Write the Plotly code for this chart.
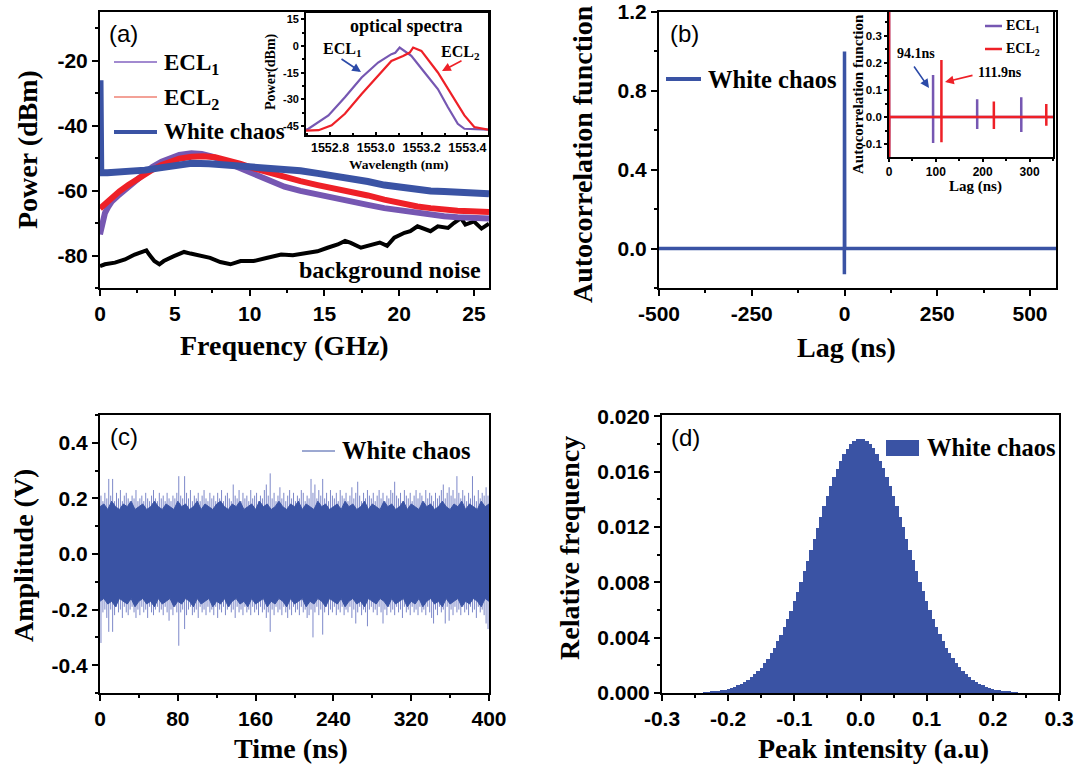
import plotly.graph_objects as go

# ---------------------------------------------------------------- data
# (a) RF spectra (GHz, dBm)
freq_ecl1 = [0, 0.11, 0.33, 0.55, 0.78, 1.2, 1.89, 2.5, 3.0, 3.5, 4.11, 4.7, 5.3, 6.11, 6.8,
             7.5, 8.56, 9.5, 10.33, 11.3, 12.33, 13.4, 14.55, 15.7, 16.78, 17.9, 19.0, 20.1,
             21.22, 22.1, 23.0, 23.9, 24.78, 25.4, 26]
pow_ecl1 = [-73.5, -71.0, -66.9, -65.0, -63.4, -61.6, -58.8, -56.3, -54.2, -52.7, -51.1, -49.9,
            -49.0, -48.5, -48.7, -49.5, -51.6, -53.4, -55.2, -57.0, -58.8, -60.1, -61.3, -62.4,
            -63.4, -64.4, -65.4, -66.2, -66.9, -67.4, -67.9, -68.2, -68.4, -68.5, -68.6]
freq_ecl2 = [0, 0.11, 0.33, 0.78, 1.3, 1.89, 2.4, 3.0, 3.5, 4.11, 4.7, 5.3, 6.11, 6.9, 7.7,
             8.56, 9.4, 10.33, 11.3, 12.33, 13.4, 14.55, 15.7, 16.78, 17.9, 19.0, 20.1, 21.22,
             22.1, 23.0, 23.9, 24.78, 26]
pow_ecl2 = [-65.5, -65.0, -64.4, -62.3, -60.2, -58.3, -56.7, -55.2, -53.6, -52.1, -51.0, -50.2,
            -49.6, -49.4, -49.7, -50.6, -51.8, -53.2, -54.5, -55.8, -57.1, -58.3, -59.3, -60.3,
            -61.5, -62.8, -63.9, -64.9, -65.4, -65.9, -66.2, -66.4, -66.6]
freq_wc = [0, 0.05, 0.5, 1.0, 1.89, 3.0, 4.0, 5.0, 6.11, 7.3, 8.56, 10.33, 12.33, 13.4, 14.55,
           15.7, 16.78, 17.9, 19.0, 20.1, 21.22, 22.1, 23.0, 23.9, 24.78, 26]
pow_wc = [-26.0, -54.5, -54.5, -54.4, -54.2, -53.7, -53.0, -52.3, -51.6, -51.7, -52.1, -52.6,
          -53.2, -53.9, -54.7, -55.5, -56.2, -57.2, -58.3, -59.1, -59.8, -60.1, -60.3, -60.5,
          -60.8, -61.0]
freq_bg = [0, 0.33, 1.0, 1.67, 2.32, 2.76, 3.1, 3.29, 3.63, 3.97, 4.26, 4.94, 5.62, 6.05,
           6.68, 7.36, 8.04, 8.72, 9.4, 10.27, 11.19, 12.11, 12.89, 13.66, 14.53, 15.21,
           15.89, 16.38, 16.76, 17.44, 18.31, 18.7, 19.19, 19.67, 20.35, 20.74, 21.22, 21.71,
           22.09, 22.58, 23.26, 23.65, 24.13, 24.42, 25.0, 25.5, 26]
pow_bg = [-83.3, -82.7, -82.2, -81.2, -79.7, -79.1, -78.4, -79.7, -81.7, -82.7, -81.7, -80.2,
          -78.9, -79.4, -80.0, -80.7, -82.0, -82.7, -81.7, -81.7, -80.7, -79.7, -79.9, -79.2,
          -78.7, -77.6, -76.6, -75.5, -76.1, -77.6, -76.6, -76.0, -77.0, -74.5, -73.0, -72.5,
          -71.0, -72.0, -72.5, -71.0, -71.5, -70.0, -68.5, -70.5, -69.5, -71.7, -70.2]

# (a) inset: optical spectra (nm, dBm)
wl_ecl1 = [1552.695, 1552.706, 1552.793, 1552.865, 1552.938, 1553.010, 1553.068, 1553.085,
           1553.104, 1553.155, 1553.213, 1553.271, 1553.315, 1553.358, 1553.387, 1553.49]
opt_ecl1 = [-47.0, -46.5, -39.0, -28.8, -17.7, -9.3, -4.6, -3.8, -0.9, -5.6, -14.9, -24.2,
            -34.4, -43.7, -46.5, -47.0]
wl_ecl2 = [1552.695, 1552.75, 1552.807, 1552.865, 1552.938, 1553.010, 1553.068, 1553.119,
           1553.148, 1553.163, 1553.199, 1553.271, 1553.329, 1553.387, 1553.43, 1553.49]
opt_ecl2 = [-47.5, -47.3, -44.6, -38.1, -27.0, -16.7, -8.4, -5.6, -3.7, -0.9, -2.8, -14.9,
            -27.0, -39.0, -45.5, -47.0]

# (b) autocorrelation of white chaos (ns, a.u.)
lag_wc = [-500, -0.6, -0.3, 0, 0.3, 0.6, 570]
acf_wc = [0.0, 0.0, -0.13, 1.0, -0.13, 0.0, 0.0]

# (b) inset: autocorrelation of the two lasers
lag_ecl1 = [0, 0.3, 0.6, 94.0, 94.05, 94.15, 94.2, 188.1, 188.15, 188.25, 188.3,
            282.2, 282.25, 282.35, 282.4, 350]
acf_ecl1 = [1.0, -0.2, 0.0, 0.0, 0.155, -0.095, 0.0, 0.0, 0.066, -0.044, 0.0,
            0.0, 0.073, -0.055, 0.0, 0.0]
lag_ecl2 = [0, 0.3, 0.6, 111.8, 111.85, 111.95, 112.0, 223.7, 223.75, 223.85, 223.9,
            335.6, 335.65, 335.75, 335.8, 350]
acf_ecl2 = [1.0, -0.2, 0.0, 0.0, 0.21, -0.093, 0.0, 0.0, 0.057, -0.044, 0.0,
            0.0, 0.048, -0.032, 0.0, 0.0]

# (c) time trace: dense core (edges every 4 ns) and excursions every 2 ns (V)
core_t = list(range(0, 401, 4))
core_hi = [
    0.17, 0.18, 0.16, 0.19, 0.17, 0.16, 0.18, 0.17, 0.19, 0.16, 0.17, 0.18, 0.16, 0.17, 0.19, 0.17, 0.16, 0.18, 0.17, 0.16,
    0.19, 0.17, 0.18, 0.16, 0.17, 0.19, 0.16, 0.18, 0.17, 0.16, 0.18, 0.19, 0.17, 0.16, 0.18, 0.17, 0.19, 0.16, 0.17, 0.18,
    0.16, 0.19, 0.17, 0.18, 0.16, 0.17, 0.19, 0.17, 0.16, 0.18, 0.17, 0.19, 0.16, 0.18, 0.17, 0.16, 0.19, 0.17, 0.18, 0.16,
    0.17, 0.18, 0.16, 0.19, 0.17, 0.18, 0.16, 0.17, 0.19, 0.16, 0.18, 0.17, 0.16, 0.19, 0.17, 0.18, 0.16, 0.17, 0.19, 0.16,
    0.18, 0.17, 0.16, 0.19, 0.17, 0.18, 0.16, 0.17, 0.19, 0.17, 0.16, 0.18, 0.17, 0.19, 0.16, 0.18, 0.17, 0.16, 0.19, 0.17,
    0.18,
]
core_lo = [
    -0.17, -0.16, -0.18, -0.17, -0.19, -0.16, -0.17, -0.18, -0.16, -0.19, -0.17, -0.16, -0.18, -0.17, -0.19, -0.16, -0.18, -0.17, -0.16, -0.19,
    -0.17, -0.18, -0.16, -0.17, -0.19, -0.16, -0.18, -0.17, -0.16, -0.19, -0.17, -0.18, -0.16, -0.19, -0.17, -0.16, -0.18, -0.17, -0.19, -0.16,
    -0.18, -0.17, -0.16, -0.19, -0.17, -0.18, -0.16, -0.17, -0.19, -0.16, -0.18, -0.17, -0.16, -0.19, -0.17, -0.18, -0.16, -0.17, -0.19, -0.16,
    -0.17, -0.18, -0.16, -0.19, -0.17, -0.16, -0.18, -0.17, -0.19, -0.16, -0.17, -0.18, -0.16, -0.17, -0.19, -0.16, -0.18, -0.17, -0.16, -0.19,
    -0.17, -0.18, -0.16, -0.19, -0.17, -0.16, -0.18, -0.17, -0.19, -0.16, -0.18, -0.17, -0.16, -0.19, -0.17, -0.18, -0.16, -0.17, -0.19, -0.16,
    -0.17,
]
spike_t = list(range(1, 400, 2))
spike_up = [
    0.21, 0.19, 0.22, 0.20, 0.27, 0.21, 0.27, 0.19, 0.22, 0.20, 0.23, 0.19, 0.21, 0.22, 0.20, 0.19, 0.21, 0.20, 0.23, 0.19,
    0.20, 0.21, 0.19, 0.22, 0.20, 0.19, 0.21, 0.23, 0.20, 0.19, 0.22, 0.20, 0.21, 0.19, 0.22, 0.20, 0.19, 0.21, 0.20, 0.22,
    0.28, 0.21, 0.20, 0.28, 0.22, 0.20, 0.23, 0.19, 0.21, 0.20, 0.22, 0.19, 0.21, 0.23, 0.20, 0.19, 0.22, 0.20, 0.21, 0.19,
    0.22, 0.20, 0.23, 0.19, 0.21, 0.22, 0.20, 0.19, 0.25, 0.21, 0.20, 0.23, 0.19, 0.22, 0.20, 0.21, 0.19, 0.23, 0.20, 0.21,
    0.22, 0.19, 0.21, 0.20, 0.23, 0.25, 0.21, 0.29, 0.20, 0.22, 0.19, 0.21, 0.24, 0.20, 0.22, 0.19, 0.21, 0.23, 0.20, 0.22,
    0.19, 0.21, 0.20, 0.23, 0.22, 0.19, 0.21, 0.20, 0.27, 0.22, 0.25, 0.20, 0.23, 0.21, 0.27, 0.20, 0.22, 0.19, 0.23, 0.21,
    0.20, 0.22, 0.19, 0.23, 0.21, 0.20, 0.22, 0.19, 0.21, 0.24, 0.20, 0.22, 0.26, 0.21, 0.19, 0.22, 0.20, 0.23, 0.21, 0.20,
    0.22, 0.19, 0.21, 0.23, 0.20, 0.22, 0.19, 0.21, 0.20, 0.23, 0.22, 0.26, 0.21, 0.20, 0.22, 0.19, 0.23, 0.21, 0.20, 0.22,
    0.19, 0.21, 0.23, 0.20, 0.22, 0.21, 0.19, 0.23, 0.20, 0.22, 0.21, 0.19, 0.22, 0.20, 0.21, 0.23, 0.25, 0.20, 0.22, 0.24,
    0.21, 0.23, 0.20, 0.28, 0.22, 0.20, 0.23, 0.21, 0.19, 0.22, 0.20, 0.28, 0.21, 0.19, 0.23, 0.20, 0.22, 0.21, 0.24, 0.21,
]
spike_down = [
    -0.32, -0.21, -0.20, -0.23, -0.28, -0.20, -0.28, -0.22, -0.19, -0.21, -0.20, -0.23, -0.19, -0.21, -0.22, -0.20, -0.19, -0.21, -0.23, -0.20,
    -0.22, -0.19, -0.21, -0.20, -0.23, -0.19, -0.21, -0.22, -0.20, -0.19, -0.21, -0.20, -0.22, -0.19, -0.21, -0.24, -0.20, -0.22, -0.19, -0.21,
    -0.33, -0.21, -0.20, -0.27, -0.22, -0.20, -0.19, -0.22, -0.21, -0.20, -0.23, -0.19, -0.21, -0.20, -0.22, -0.19, -0.21, -0.20, -0.22, -0.19,
    -0.23, -0.20, -0.21, -0.19, -0.22, -0.20, -0.19, -0.21, -0.20, -0.23, -0.19, -0.21, -0.20, -0.22, -0.19, -0.21, -0.20, -0.22, -0.19, -0.21,
    -0.20, -0.22, -0.19, -0.21, -0.20, -0.23, -0.21, -0.28, -0.20, -0.22, -0.19, -0.21, -0.20, -0.22, -0.19, -0.21, -0.23, -0.20, -0.22, -0.19,
    -0.21, -0.20, -0.22, -0.19, -0.21, -0.20, -0.23, -0.22, -0.20, -0.30, -0.21, -0.19, -0.22, -0.20, -0.29, -0.21, -0.19, -0.22, -0.20, -0.21,
    -0.19, -0.22, -0.20, -0.21, -0.19, -0.22, -0.20, -0.21, -0.19, -0.23, -0.20, -0.25, -0.21, -0.19, -0.22, -0.20, -0.21, -0.26, -0.20, -0.19,
    -0.21, -0.20, -0.22, -0.19, -0.21, -0.25, -0.20, -0.22, -0.19, -0.21, -0.20, -0.22, -0.19, -0.21, -0.20, -0.23, -0.19, -0.21, -0.20, -0.22,
    -0.19, -0.21, -0.20, -0.22, -0.19, -0.21, -0.20, -0.22, -0.19, -0.21, -0.23, -0.25, -0.20, -0.22, -0.19, -0.21, -0.20, -0.25, -0.19, -0.24,
    -0.20, -0.22, -0.19, -0.21, -0.20, -0.22, -0.19, -0.21, -0.20, -0.22, -0.19, -0.21, -0.20, -0.23, -0.19, -0.21, -0.20, -0.22, -0.25, -0.27,
]

# (d) histogram of peak intensity: bin centres (a.u.) and relative frequency
bin_width = 0.005
bin_centres = [round(-0.235 + i * bin_width, 3) for i in range(95)]
rel_freq = [
    0.00004, 0.00006, 0.00009, 0.00012, 0.00015, 0.00019, 0.00024, 0.00030, 0.00037, 0.00045,
    0.00055, 0.00066, 0.00080, 0.00095, 0.00113, 0.00134, 0.00158, 0.00184, 0.00214, 0.00248,
    0.00286, 0.00327, 0.00373, 0.00422, 0.00476, 0.00534, 0.00596, 0.00662, 0.00732, 0.00804,
    0.00879, 0.00957, 0.01035, 0.01115, 0.01195, 0.01273, 0.01350, 0.01425, 0.01496, 0.01562,
    0.01623, 0.01678, 0.01725, 0.01765, 0.01797, 0.01820, 0.01834, 0.01840,
    0.01836, 0.01824, 0.01801, 0.01768, 0.01728, 0.01680, 0.01625, 0.01564, 0.01498, 0.01427,
    0.01352, 0.01275, 0.01197, 0.01117, 0.01037, 0.00959, 0.00881, 0.00806, 0.00734, 0.00664,
    0.00598, 0.00536, 0.00478, 0.00424, 0.00375, 0.00329, 0.00288, 0.00250, 0.00216, 0.00186,
    0.00159, 0.00135, 0.00114, 0.00096, 0.00081, 0.00067, 0.00056, 0.00046, 0.00038, 0.00031,
    0.00025, 0.00020, 0.00016, 0.00012, 0.00009, 0.00006, 0.00004,
]

# tick labels (plain hyphen minus signs)
a_xticks = [0, 5, 10, 15, 20, 25]
a_yticks = [-80, -60, -40, -20]
ai_xticks = [1552.8, 1553.0, 1553.2, 1553.4]
ai_yticks = [-45, -30, -15, 0, 15]
b_xticks = [-500, -250, 0, 250, 500]
b_yticks = [0.0, 0.4, 0.8, 1.2]
bi_xticks = [0, 100, 200, 300]
bi_yticks = [-0.1, 0.0, 0.1, 0.2, 0.3]
c_xticks = [0, 80, 160, 240, 320, 400]
c_yticks = [-0.4, -0.2, 0.0, 0.2, 0.4]
d_xticks = [-0.3, -0.2, -0.1, 0.0, 0.1, 0.2, 0.3]
d_yticks = [0.000, 0.004, 0.008, 0.012, 0.016, 0.020]

# ---------------------------------------------------------------- style
W, H = 1077, 767
SERIF = "Liberation Serif"
SANS = "Liberation Sans"
BLUE = "#3a53a4"
PURPLE = "#7657b2"
RED = "#ee2027"
SPIKE = "#7d88c9"


def px(x):
    return x / W


def py(y):
    return 1 - y / H


def fmt(v, nd):
    return f"{v:.{nd}f}"


def axis(domain, rng, ticks, nd, minor_tick0, minor_dtick, anchor, fs=21, tl=6, lw=2,
         tickdir="outside"):
    return dict(
        domain=domain, range=rng, anchor=anchor, automargin=False,
        tickmode="array", tickvals=ticks, ticktext=[fmt(v, nd) for v in ticks],
        showgrid=False, zeroline=False, showline=True, linecolor="black",
        linewidth=lw, mirror=True, ticks=tickdir, ticklen=tl, tickwidth=lw,
        tickcolor="black",
        minor=dict(tick0=minor_tick0, dtick=minor_dtick, ticks=tickdir,
                   ticklen=max(2, tl - 3), tickwidth=lw, tickcolor="black",
                   showgrid=False),
        tickfont=dict(family=SANS, size=fs, color="black", weight="bold"),
    )


fig = go.Figure()

# ---------------------------------------------------------------- (a)
fig.add_trace(go.Scatter(x=freq_bg, y=pow_bg, mode="lines",
                         line=dict(color="black", width=4), xaxis="x", yaxis="y"))
fig.add_trace(go.Scatter(x=freq_ecl1, y=pow_ecl1, mode="lines",
                         line=dict(color=PURPLE, width=6), xaxis="x", yaxis="y"))
fig.add_trace(go.Scatter(x=freq_ecl2, y=pow_ecl2, mode="lines",
                         line=dict(color=RED, width=6), xaxis="x", yaxis="y"))
fig.add_trace(go.Scatter(x=freq_wc, y=pow_wc, mode="lines",
                         line=dict(color=BLUE, width=7), xaxis="x", yaxis="y"))

# (a) inset
fig.add_trace(go.Scatter(x=wl_ecl1, y=opt_ecl1, mode="lines",
                         line=dict(color=PURPLE, width=2.2), xaxis="x5", yaxis="y5"))
fig.add_trace(go.Scatter(x=wl_ecl2, y=opt_ecl2, mode="lines",
                         line=dict(color=RED, width=2.2), xaxis="x5", yaxis="y5"))

# ---------------------------------------------------------------- (b)
fig.add_trace(go.Scatter(x=lag_wc, y=acf_wc, mode="lines",
                         line=dict(color=BLUE, width=3.5), xaxis="x2", yaxis="y2"))
fig.add_trace(go.Scatter(x=lag_ecl1, y=acf_ecl1, mode="lines",
                         line=dict(color=PURPLE, width=2.5), xaxis="x6", yaxis="y6"))
fig.add_trace(go.Scatter(x=lag_ecl2, y=acf_ecl2, mode="lines",
                         line=dict(color=RED, width=2.5), xaxis="x6", yaxis="y6"))

# ---------------------------------------------------------------- (c)
seg_x, seg_y = [], []
for t, u, d in zip(spike_t, spike_up, spike_down):
    seg_x += [t, t, None]
    seg_y += [d, u, None]
fig.add_trace(go.Scatter(x=seg_x, y=seg_y, mode="lines",
                         line=dict(color=SPIKE, width=1), xaxis="x3", yaxis="y3"))
fig.add_trace(go.Scatter(x=core_t + core_t[::-1], y=core_hi + core_lo[::-1],
                         mode="lines", fill="toself", fillcolor=BLUE,
                         line=dict(color=BLUE, width=1), xaxis="x3", yaxis="y3"))

# ---------------------------------------------------------------- (d)
fig.add_trace(go.Bar(x=bin_centres, y=rel_freq, width=bin_width,
                     marker=dict(color=BLUE, line=dict(width=0)),
                     xaxis="x4", yaxis="y4"))

# ---------------------------------------------------------------- axes
dom_top = [py(288), py(12)]
dom_bot = [py(693), py(415)]
fig.update_layout(
    xaxis=axis([px(100), px(489)], [0, 26], a_xticks, 0, 0, 2.5, "y"),
    yaxis=axis(dom_top, [-90, -5], a_yticks, 0, 0, 10, "x"),
    xaxis2=axis([px(659), px(1056)], [-500, 570], b_xticks, 0, 0, 125, "y2"),
    yaxis2=axis(dom_top, [-0.2, 1.2], b_yticks, 1, 0, 0.2, "x2"),
    xaxis3=axis([px(100), px(489)], [0, 400], c_xticks, 0, 0, 40, "y3"),
    yaxis3=axis(dom_bot, [-0.5, 0.5], c_yticks, 1, 0, 0.1, "x3"),
    xaxis4=axis([px(662), px(1059)], [-0.3, 0.3], d_xticks, 1, 0, 0.05, "y4"),
    yaxis4=axis(dom_bot, [0, 0.0201], d_yticks, 3, 0, 0.002, "x4"),
    xaxis5=axis([px(306), px(488)], [1552.695, 1553.49], ai_xticks, 1, 1552.8, 0.1, "y5",
                fs=12.5, tl=3, lw=1.8, tickdir="inside"),
    yaxis5=axis([py(135), py(13)], [-50, 18.5], ai_yticks, 0, 0, 7.5, "x5",
                fs=11, tl=3, lw=1.8),
    xaxis6=axis([px(889), px(1053)], [0, 350], bi_xticks, 0, 0, 50, "y6",
                fs=12, tl=3, lw=1.8),
    yaxis6=axis([py(157), py(12)], [-0.147, 0.387], bi_yticks, 1, 0, 0.05, "x6",
                fs=11.5, tl=3, lw=1.8),
)

# ---------------------------------------------------------------- text
ann = []
shapes = []


def text(x, y, s, size, family=SERIF, bold=True, angle=0, color="black",
         xanchor="center", yanchor="middle"):
    ann.append(dict(x=px(x), y=py(y), xref="paper", yref="paper", text=s,
                    showarrow=False, textangle=angle, xanchor=xanchor, yanchor=yanchor,
                    font=dict(family=family, size=size, color=color,
                              weight="bold" if bold else "normal")))


def arrow(x0, y0, x1, y1, color):
    # arrow from (x0, y0) to the head at (x1, y1), page pixels
    ann.append(dict(x=px(x1), y=py(y1), xref="paper", yref="paper",
                    ax=x0 - x1, ay=y0 - y1, axref="pixel", ayref="pixel", text="",
                    showarrow=True, arrowhead=2, arrowsize=1.1, arrowwidth=1.6,
                    arrowcolor=color))


def key_line(x0, x1, y, color, width):
    shapes.append(dict(type="line", xref="paper", yref="paper",
                       x0=px(x0), x1=px(x1), y0=py(y), y1=py(y),
                       line=dict(color=color, width=width)))


# axis titles
text(28, 150, "Power (dBm)", 28, angle=-90)
text(284, 345, "Frequency (GHz)", 28)
text(583, 154, "Autocorrelation function", 28, angle=-90)
text(846, 347, "Lag (ns)", 28)
text(23, 556, "Amplitude (V)", 28, angle=-90)
text(291, 748, "Time (ns)", 28)
text(569, 548, "Relative frequency", 28, angle=-90)
text(873, 748, "Peak intensity (a.u)", 28)

# panel labels
text(107, 33, "(a)", 24, family=SANS, bold=False, xanchor="left")
text(668, 33, "(b)", 24, family=SANS, bold=False, xanchor="left")
text(108, 436, "(c)", 24, family=SANS, bold=False, xanchor="left")
text(669, 437, "(d)", 24, family=SANS, bold=False, xanchor="left")

# (a) keys
key_line(114, 157, 62, "#a28ad0", 2)
key_line(114, 157, 97, "#f3a197", 2)
key_line(114, 157, 132, BLUE, 4)
text(162, 64, "ECL<sub>1</sub>", 23, xanchor="left")
text(162, 99, "ECL<sub>2</sub>", 23, xanchor="left")
text(162, 132, "White chaos", 23, xanchor="left")
text(390, 270, "background noise", 24)

# (a) inset
text(406, 26, "optical spectra", 18)
text(342, 50, "ECL<sub>1</sub>", 16)
text(460, 52, "ECL<sub>2</sub>", 16)
arrow(340, 58, 361, 72, "#2b4aa8")
arrow(463, 60, 442, 71, RED)
text(398, 164, "Wavelength (nm)", 13.5)
text(271, 72, "Power(dBm)", 14, angle=-90)

# (b) key
key_line(666, 701, 79, BLUE, 4)
text(706, 79, "White chaos", 24.5, xanchor="left")

# (b) inset
key_line(985, 1002, 26, PURPLE, 2.5)
key_line(985, 1002, 49, RED, 2.5)
text(1004, 27, "ECL<sub>1</sub>", 14, xanchor="left")
text(1004, 50, "ECL<sub>2</sub>", 14, xanchor="left")
text(916, 53, "94.1ns", 14)
text(1000, 73, "111.9ns", 14)
arrow(913, 65, 929, 88, "#2b4aa8")
arrow(974, 75, 945, 82, RED)
text(975, 186, "Lag (ns)", 15)
text(858, 94, "Autocorrelation function", 15, angle=-90)

# (c) key
key_line(302, 335, 451, BLUE, 1)
text(340, 450, "White chaos", 24.5, xanchor="left")

# (d) key
shapes.append(dict(type="rect", xref="paper", yref="paper",
                   x0=px(886), x1=px(919), y0=py(456), y1=py(440),
                   fillcolor=BLUE, line=dict(width=0)))
text(925, 447, "White chaos", 24.5, xanchor="left")

fig.update_layout(
    width=W, height=H, margin=dict(l=0, r=0, t=0, b=0, pad=0, autoexpand=False),
    paper_bgcolor="white", plot_bgcolor="white", showlegend=False,
    bargap=0, annotations=ann, shapes=shapes,
)

fig.write_html("out.html")
